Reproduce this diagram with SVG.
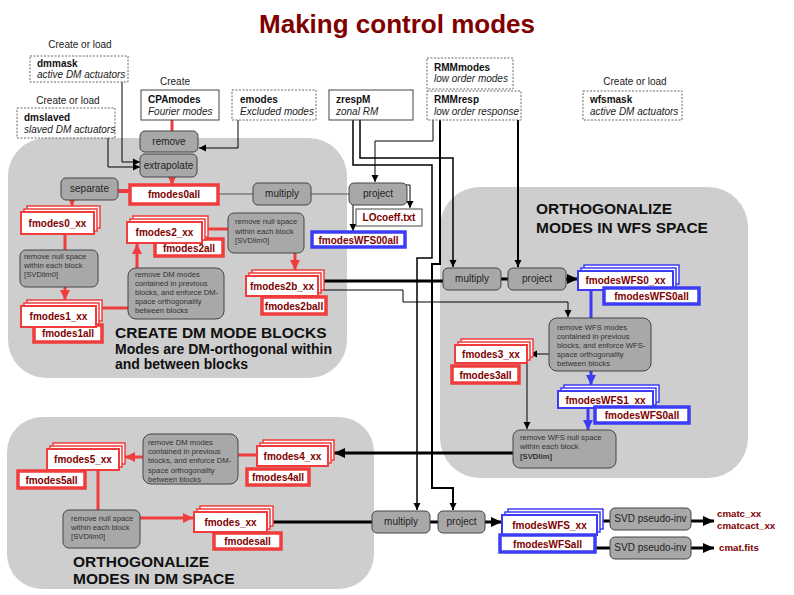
<svg xmlns="http://www.w3.org/2000/svg" width="794" height="595" viewBox="0 0 794 595">
<style>
text{font-family:"Liberation Sans",Arial,sans-serif}
.title{font-size:26px;font-weight:bold;fill:#800000}
.region{fill:#cecece}
.rlab{font-size:15.5px;font-weight:bold;fill:#111}
.rsub{font-size:14px;font-weight:bold;fill:#111}
.src{fill:#fff;stroke:#444;stroke-width:1}
.dash{stroke:#666;stroke-dasharray:2,1.5}
.sname{font-size:10px;font-weight:bold;fill:#111}
.sdesc{font-size:10px;font-style:italic;fill:#222}
.cap{font-size:10px;fill:#222;text-anchor:middle}
.proc{fill:#a8a8a8;stroke:#444;stroke-width:1}
.plab{font-size:10px;fill:#222;text-anchor:middle}
.small{font-size:7.7px;fill:#333}
.rb{fill:#fff;stroke:#f03c3c;stroke-width:1.5}
.rbf{fill:#fff;stroke:#f03c3c;stroke-width:2}
.ra{fill:#fff;stroke:#f03c3c;stroke-width:3.5}
.bb{fill:#fff;stroke:#3c3cf5;stroke-width:1.5}
.bbf{fill:#fff;stroke:#3c3cf5;stroke-width:2}
.ba{fill:#fff;stroke:#3c3cf5;stroke-width:3.5}
.dlab{font-size:10px;font-weight:bold;fill:#800000;text-anchor:middle}
.out{font-size:9.7px;font-weight:bold;fill:#800000}
.c{fill:none;stroke:#000;stroke-width:1}
.c15{fill:none;stroke:#000;stroke-width:1.5}
.c2{fill:none;stroke:#000;stroke-width:2}
.c3{fill:none;stroke:#000;stroke-width:3}
.g{fill:none;stroke:#555;stroke-width:1}
.r{fill:none;stroke:#f03c3c;stroke-width:3}
.b{fill:none;stroke:#3c3cf5;stroke-width:3}
</style>
<defs>
<marker id="ab" markerWidth="8" markerHeight="8" refX="7" refY="4" orient="auto" markerUnits="userSpaceOnUse"><path d="M0,0.5 L7,4 L0,7.5z" fill="#000"/></marker>
<marker id="abig" markerWidth="12" markerHeight="12" refX="11" refY="6" orient="auto" markerUnits="userSpaceOnUse"><path d="M0,1 L11,6 L0,11z" fill="#000"/></marker>
<marker id="ar" markerWidth="11" markerHeight="11" refX="10" refY="5.5" orient="auto" markerUnits="userSpaceOnUse"><path d="M0,0.5 L10,5.5 L0,10.5z" fill="#f03c3c"/></marker>
<marker id="abl" markerWidth="11" markerHeight="11" refX="10" refY="5.5" orient="auto" markerUnits="userSpaceOnUse"><path d="M0,0.5 L10,5.5 L0,10.5z" fill="#3c3cf5"/></marker>
</defs>

<text x="397" y="33" class="title" text-anchor="middle">Making control modes</text>

<g id="regions">
<g id="region-dm-blocks">
<rect class="region" x="8" y="138" width="339" height="240" rx="38"/>
<text class="rlab" x="115" y="338">CREATE DM MODE BLOCKS</text>
<text class="rsub" x="115" y="354">Modes are DM-orthogonal within</text>
<text class="rsub" x="115" y="369">and between blocks</text>
</g>
<g id="region-wfs">
<rect class="region" x="440" y="187" width="308" height="291" rx="40"/>
<text class="rlab" x="536" y="214">ORTHOGONALIZE</text>
<text class="rlab" x="536" y="233">MODES IN WFS SPACE</text>
</g>
<g id="region-dm">
<rect class="region" x="7" y="417" width="367" height="172" rx="35"/>
<text class="rlab" x="73" y="567">ORTHOGONALIZE</text>
<text class="rlab" x="73" y="584">MODES IN DM SPACE</text>
</g>
</g>

<g id="connectors">
<path class="r" d="M172,120 V131"/>
<path class="c" d="M238,120 V148 H199" marker-end="url(#ab)"/>
<path class="c" d="M122,82 V162 H140" marker-end="url(#ab)"/>
<path class="c" d="M108,138 V167 H140" marker-end="url(#ab)"/>
<path class="r" d="M172,177 V185" marker-end="url(#ar)"/>
<path class="r" d="M118,191 H130" style="stroke-width:4"/>
<path class="r" d="M72,200 V206" marker-end="url(#ar)"/>
<path class="g" d="M218,194 H253"/>
<path class="g" d="M311,194 H349"/>
<path class="c" d="M353,205 V231" marker-end="url(#ab)"/>
<path class="c" d="M404,185 H410 V208" marker-end="url(#ab)"/>
<path class="r" d="M65,234 V300" marker-end="url(#ar)"/>
<path class="r" d="M96,308 H128"/>
<path class="r" d="M137,268 V244" marker-end="url(#ar)"/>
<path class="r" d="M202,229 H228"/>
<path class="r" d="M295,253 V270" marker-end="url(#ar)"/>
<path class="c3" d="M318,281 H443"/>
<path class="c" d="M318,290 H403 V302 H568 V317" marker-end="url(#ab)"/>
<path class="c15" d="M353,120 V165 H432 V258 H417 V510" marker-end="url(#ab)"/>
<path class="c15" d="M360,120 V158 H453 V267" marker-end="url(#ab)"/>
<path class="c2" d="M440,120 V264 H432 V488 H453 V510" marker-end="url(#ab)"/>
<path class="c2" d="M518,120 V267" marker-end="url(#ab)"/>
<path class="c" d="M433,120 V141 H375 V182" marker-end="url(#ab)"/>
<path class="c3" d="M501,279 H508"/>
<path class="c3" d="M566,279 H578" marker-end="url(#abig)"/>
<path class="b" d="M591,290 V318"/>
<path class="c" d="M549,354 H530" marker-end="url(#ab)"/>
<path class="b" d="M591,371 V385" marker-end="url(#abl)"/>
<path class="c" d="M527,363 V429" marker-end="url(#ab)"/>
<path class="b" d="M588,408 V430" marker-end="url(#abl)"/>
<path class="c3" d="M513,453 H334" marker-end="url(#abig)"/>
<path class="r" d="M257,455 H238"/>
<path class="r" d="M143,457 H125" marker-end="url(#ar)"/>
<path class="r" d="M98,470 V510"/>
<path class="r" d="M140,518 H193" marker-end="url(#ar)"/>
<path class="c3" d="M267,522 H372"/>
<path class="c3" d="M430,522 H438"/>
<path class="c3" d="M485,522 H502" marker-end="url(#abig)"/>
<path class="c3" d="M597,521 H610"/>
<path class="c3" d="M595,548 H610"/>
<path class="c3" d="M691,521 H714" marker-end="url(#abig)"/>
<path class="c3" d="M691,548 H714" marker-end="url(#abig)"/>
</g>

<g id="dmmask"><text class="cap" x="80" y="48">Create or load</text><rect class="src dash" x="30" y="56" width="98" height="26"/><text class="sname" x="37" y="67">dmmask</text><text class="sdesc" x="37" y="78">active DM actuators</text></g>
<g id="dmslaved"><text class="cap" x="68" y="104">Create or load</text><rect class="src dash" x="17" y="108" width="98" height="30"/><text class="sname" x="24" y="121">dmslaved</text><text class="sdesc" x="24" y="133">slaved DM actuators</text></g>
<g id="CPAmodes"><text class="cap" x="175" y="85">Create</text><rect class="src" x="141" y="90" width="78" height="30"/><text class="sname" x="148" y="103">CPAmodes</text><text class="sdesc" x="148" y="115">Fourier modes</text></g>
<g id="emodes"><rect class="src dash" x="232" y="90" width="84" height="30"/><text class="sname" x="240" y="103">emodes</text><text class="sdesc" x="240" y="115">Excluded modes</text></g>
<g id="zrespM"><rect class="src" x="329" y="90" width="84" height="30"/><text class="sname" x="336" y="103">zrespM</text><text class="sdesc" x="336" y="115">zonal RM</text></g>
<g id="RMMmodes"><rect class="src dash" x="427" y="58" width="86" height="31"/><text class="sname" x="434" y="71">RMMmodes</text><text class="sdesc" x="434" y="82">low order modes</text></g>
<g id="RMMresp"><rect class="src dash" x="427" y="91" width="94" height="29"/><text class="sname" x="434" y="103">RMMresp</text><text class="sdesc" x="434" y="115">low order response</text></g>
<g id="wfsmask"><text class="cap" x="635" y="85">Create or load</text><rect class="src dash" x="583" y="91" width="99" height="29"/><text class="sname" x="590" y="103">wfsmask</text><text class="sdesc" x="590" y="115">active DM actuators</text></g>

<g id="remove"><rect class="proc" x="140" y="131" width="58" height="21" rx="5"/><text class="plab" x="169" y="145">remove</text></g>
<g id="extrapolate"><rect class="proc" x="140" y="154" width="57" height="23" rx="5"/><text class="plab" x="168.5" y="169">extrapolate</text></g>
<g id="separate"><rect class="proc" x="61" y="178" width="57" height="22" rx="5"/><text class="plab" x="89.5" y="192">separate</text></g>
<g id="multiply1"><rect class="proc" x="253" y="183" width="58" height="22" rx="5"/><text class="plab" x="282" y="197">multiply</text></g>
<g id="project1"><rect class="proc" x="349" y="183" width="58" height="22" rx="5"/><text class="plab" x="378" y="197">project</text></g>
<g id="LOcoeff"><rect x="356" y="209" width="66" height="17" fill="#fff" stroke="#444" stroke-width="1"/><text class="dlab" x="389" y="221">LOcoeff.txt</text></g>
<g id="fmodesWFS00all"><rect class="ba" x="312" y="232" width="93" height="15"/><text class="dlab" x="358.5" y="243.5">fmodesWFS00all</text></g>

<g id="fmodes0all"><rect class="ra" x="130" y="185" width="88" height="19"/><text class="dlab" x="174" y="198">fmodes0all</text></g>
<g id="fmodes0_xx"><rect class="rb" x="27" y="206" width="73" height="22"/><rect class="rb" x="24" y="209" width="73" height="22"/><rect class="rbf" x="21" y="212" width="73" height="22"/><text class="dlab" x="57.5" y="227">fmodes0_xx</text></g>
<g id="nullspace1"><rect class="proc" x="20" y="250" width="78" height="37" rx="6"/><text class="small" x="24" y="259">remove null space</text><text class="small" x="24" y="268">within each block</text><text class="small" x="24" y="277">[SVDlim0]</text></g>
<g id="fmodes1all"><rect class="ra" x="34" y="325" width="68" height="17"/><text class="dlab" x="68" y="337">fmodes1all</text></g>
<g id="fmodes1_xx"><rect class="rb" x="27" y="300" width="75" height="21"/><rect class="rb" x="24" y="303" width="75" height="21"/><rect class="rbf" x="21" y="306" width="75" height="21"/><text class="dlab" x="58.5" y="320">fmodes1_xx</text></g>
<g id="removeDM1"><rect class="proc" x="128" y="268" width="96" height="51" rx="8"/><text class="small" x="135" y="277">remove DM modes</text><text class="small" x="135" y="286">contained in previous</text><text class="small" x="135" y="295">blocks, and enforce DM-</text><text class="small" x="135" y="304">space orthogonality</text><text class="small" x="135" y="313">between blocks</text></g>
<g id="fmodes2all"><rect class="ra" x="155" y="239" width="68" height="17"/><text class="dlab" x="189" y="251.5">fmodes2all</text></g>
<g id="fmodes2_xx"><rect class="rb" x="133" y="216" width="75" height="21"/><rect class="rb" x="130" y="219" width="75" height="21"/><rect class="rbf" x="127" y="222" width="75" height="21"/><text class="dlab" x="164.5" y="236">fmodes2_xx</text></g>
<g id="nullspace2"><rect class="proc" x="228" y="213" width="76" height="40" rx="6"/><text class="small" x="235" y="224">remove null space</text><text class="small" x="235" y="234">within each block</text><text class="small" x="235" y="243">[SVDlim0]</text></g>
<g id="fmodes2ball"><rect class="ra" x="262" y="297" width="64" height="17"/><text class="dlab" x="294" y="309.5">fmodes2ball</text></g>
<g id="fmodes2b_xx"><rect class="rb" x="252" y="270" width="72" height="20"/><rect class="rb" x="249" y="273" width="72" height="20"/><rect class="rbf" x="246" y="276" width="72" height="20"/><text class="dlab" x="282" y="290">fmodes2b_xx</text></g>

<g id="multiply2"><rect class="proc" x="443" y="268" width="58" height="22" rx="5"/><text class="plab" x="472" y="282">multiply</text></g>
<g id="project2"><rect class="proc" x="508" y="268" width="58" height="22" rx="5"/><text class="plab" x="537" y="282">project</text></g>
<g id="fmodesWFS0_xx"><rect class="bb" x="584" y="265" width="95" height="19"/><rect class="bb" x="581" y="268" width="95" height="19"/><rect class="bbf" x="578" y="271" width="95" height="19"/><text class="dlab" x="625.5" y="284">fmodesWFS0_xx</text></g>
<g id="fmodesWFS0all"><rect class="ba" x="604" y="288" width="95" height="16"/><text class="dlab" x="651.5" y="300">fmodesWFS0all</text></g>
<g id="removeWFS"><rect class="proc" x="549" y="318" width="102" height="53" rx="8"/><text class="small" x="557" y="330">remove WFS modes</text><text class="small" x="557" y="339">contained in previous</text><text class="small" x="557" y="348">blocks, and enforce WFS-</text><text class="small" x="557" y="357">space orthogonality</text><text class="small" x="557" y="366">between blocks</text></g>
<g id="fmodes3all"><rect class="ra" x="452" y="366" width="67" height="17"/><text class="dlab" x="485.5" y="378.5">fmodes3all</text></g>
<g id="fmodes3_xx"><rect class="rb" x="461" y="339" width="72" height="18"/><rect class="rb" x="458" y="342" width="72" height="18"/><rect class="rbf" x="455" y="345" width="72" height="18"/><text class="dlab" x="491" y="358">fmodes3_xx</text></g>
<g id="fmodesWFS1_xx"><rect class="bb" x="564" y="385" width="95" height="17"/><rect class="bb" x="561" y="388" width="95" height="17"/><rect class="bbf" x="558" y="391" width="95" height="17"/><text class="dlab" x="605.5" y="403.5">fmodesWFS1_xx</text></g>
<g id="fmodesWFS0all-2"><rect class="ba" x="595" y="407" width="94" height="16"/><text class="dlab" x="642" y="419">fmodesWFS0all</text></g>
<g id="nullWFS"><rect class="proc" x="513" y="430" width="103" height="38" rx="7"/><text class="small" x="520" y="440">remove WFS null space</text><text class="small" x="520" y="449">within each block</text><text class="small" x="520" y="459" font-weight="bold">[SVDlim]</text></g>

<g id="fmodes4all"><rect class="ra" x="247" y="469" width="62" height="16"/><text class="dlab" x="278" y="481">fmodes4all</text></g>
<g id="fmodes4_xx"><rect class="rb" x="263" y="440" width="71" height="20"/><rect class="rb" x="260" y="443" width="71" height="20"/><rect class="rbf" x="257" y="446" width="71" height="20"/><text class="dlab" x="292.5" y="460">fmodes4_xx</text></g>
<g id="removeDM2"><rect class="proc" x="143" y="434" width="95" height="50" rx="8"/><text class="small" x="148" y="445">remove DM modes</text><text class="small" x="148" y="454">contained in previous</text><text class="small" x="148" y="463">blocks, and enforce DM-</text><text class="small" x="148" y="473">space orthogonality</text><text class="small" x="148" y="482">between blocks</text></g>
<g id="fmodes5all"><rect class="ra" x="18" y="471" width="67" height="17"/><text class="dlab" x="51.5" y="483.5">fmodes5all</text></g>
<g id="fmodes5_xx"><rect class="rb" x="53" y="443" width="72" height="21"/><rect class="rb" x="50" y="446" width="72" height="21"/><rect class="rbf" x="47" y="449" width="72" height="21"/><text class="dlab" x="83" y="463">fmodes5_xx</text></g>
<g id="nullspace3"><rect class="proc" x="63" y="510" width="77" height="38" rx="6"/><text class="small" x="71" y="521">remove null space</text><text class="small" x="71" y="530">within each block</text><text class="small" x="71" y="539">[SVDlim0]</text></g>
<g id="fmodesall"><rect class="ra" x="214" y="533" width="67" height="16"/><text class="dlab" x="247.5" y="545">fmodesall</text></g>
<g id="fmodes_xx"><rect class="rb" x="200" y="506" width="73" height="20"/><rect class="rb" x="197" y="509" width="73" height="20"/><rect class="rbf" x="194" y="512" width="73" height="20"/><text class="dlab" x="230.5" y="526">fmodes_xx</text></g>

<g id="multiply3"><rect class="proc" x="372" y="511" width="58" height="22" rx="5"/><text class="plab" x="401" y="525">multiply</text></g>
<g id="project3"><rect class="proc" x="438" y="511" width="47" height="22" rx="5"/><text class="plab" x="461.5" y="525">project</text></g>
<g id="fmodesWFS_xx"><rect class="bb" x="508" y="509" width="95" height="20"/><rect class="bb" x="505" y="512" width="95" height="20"/><rect class="bbf" x="502" y="515" width="95" height="20"/><text class="dlab" x="549.5" y="529">fmodesWFS_xx</text></g>
<g id="fmodesWFSall"><rect class="ba" x="500" y="535" width="95" height="17"/><text class="dlab" x="547.5" y="547.5">fmodesWFSall</text></g>
<g id="svd1"><rect class="proc" x="610" y="508" width="81" height="22" rx="5"/><text class="plab" x="650.5" y="522">SVD pseudo-inv</text></g>
<g id="svd2"><rect class="proc" x="610" y="537" width="81" height="22" rx="5"/><text class="plab" x="650.5" y="551">SVD pseudo-inv</text></g>
<g id="outputs"><text class="out" x="717" y="517">cmatc_xx</text><text class="out" x="717" y="529">cmatcact_xx</text><text class="out" x="719" y="551">cmat.fits</text></g>
</svg>
